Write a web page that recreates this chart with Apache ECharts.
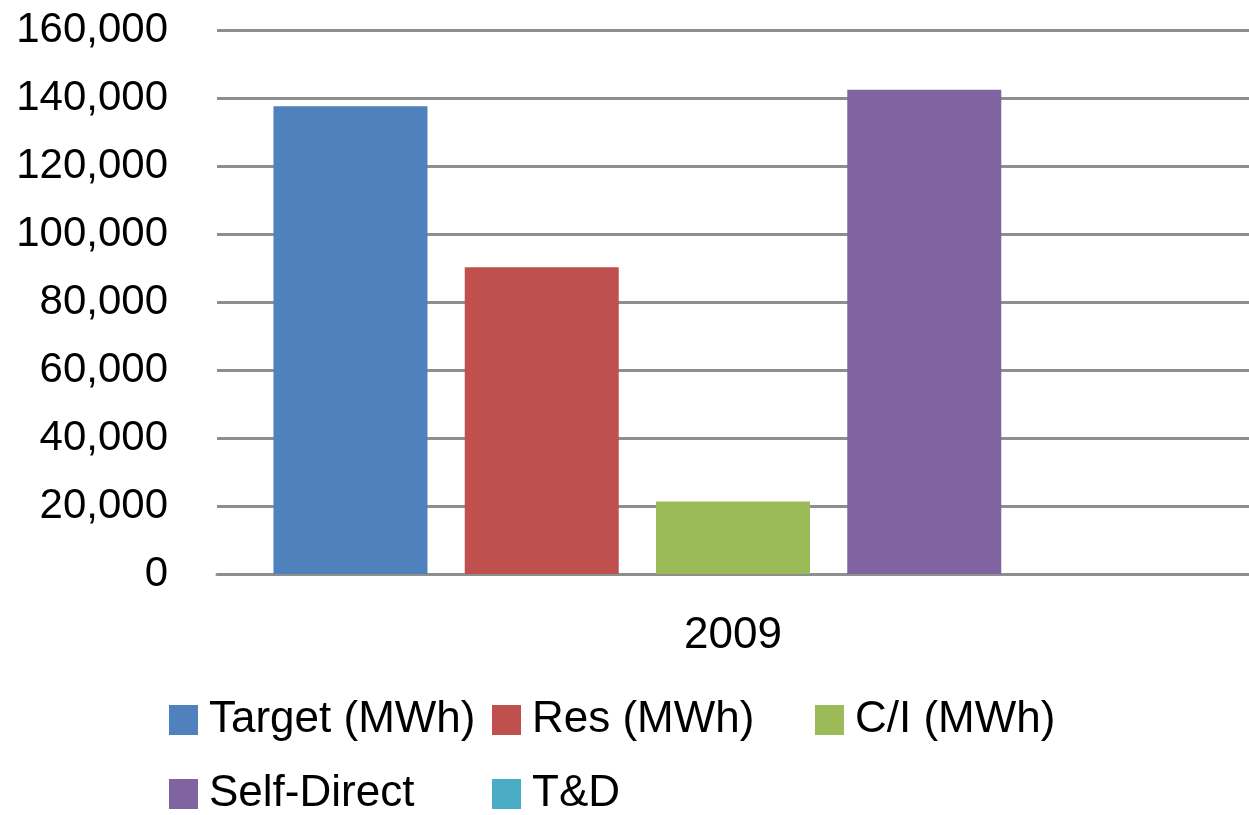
<!DOCTYPE html>
<html>
<head>
<meta charset="utf-8">
<title>2009 Savings</title>
<script src="https://cdn.jsdelivr.net/npm/echarts@6/dist/echarts.min.js"></script>
<style>
  html, body { margin: 0; padding: 0; background: #ffffff; }
  #chart { width: 1249px; height: 815px; }
</style>
</head>
<body>
<div id="chart"></div>
<script>
// Categories and series values
const categories = ['2009'];
const seriesNames = ['Target (MWh)', 'Res (MWh)', 'C/I (MWh)', 'Self-Direct', 'T&D'];
const targetValues = [137600];
const resValues = [90200];
const ciValues = [21300];
const selfDirectValues = [142400];
const tdValues = [0];
const yTicks = { min: 0, max: 160000, interval: 20000 };

const seriesData = [targetValues, resValues, ciValues, selfDirectValues, tdValues];
const colors = ['#4F81BD', '#C0504D', '#9BBB59', '#8064A2', '#4BACC6'];
const font = '"Liberation Sans", Arial, sans-serif';
const gridColor = '#8e8e8e';

const chart = echarts.init(document.getElementById('chart'), null, { renderer: 'canvas' });

chart.setOption({
  animation: false,
  color: colors,
  grid: { left: 217, right: 0, top: 30, bottom: 241, containLabel: false },
  xAxis: {
    type: 'category',
    data: categories,
    axisLine: { show: true, lineStyle: { color: gridColor, width: 3 } },
    axisTick: { show: false },
    axisLabel: { color: '#000', fontFamily: font, fontSize: 44, margin: 40 }
  },
  yAxis: {
    type: 'value',
    min: yTicks.min,
    max: yTicks.max,
    interval: yTicks.interval,
    axisLine: { show: false },
    axisTick: { show: false },
    splitLine: { show: true, lineStyle: { color: gridColor, width: 3 } },
    axisLabel: {
      color: '#000', fontFamily: font, fontSize: 42, margin: 49,
      formatter: v => v.toLocaleString('en-US')
    }
  },
  legend: {
    left: 169,
    top: 688,
    width: 1000,
    padding: 0,
    itemGap: 10,
    itemWidth: 29,
    itemHeight: 30,
    icon: 'rect',
    data: seriesNames,
    textStyle: {
      color: '#000', fontFamily: font, fontSize: 44,
      width: 273, lineHeight: 64, padding: [0, 0, 0, 6]
    }
  },
  series: seriesNames.map((name, i) => ({
    name: name,
    type: 'bar',
    data: seriesData[i],
    barWidth: 154,
    barGap: '24.2%'
  }))
});
</script>
</body>
</html>
